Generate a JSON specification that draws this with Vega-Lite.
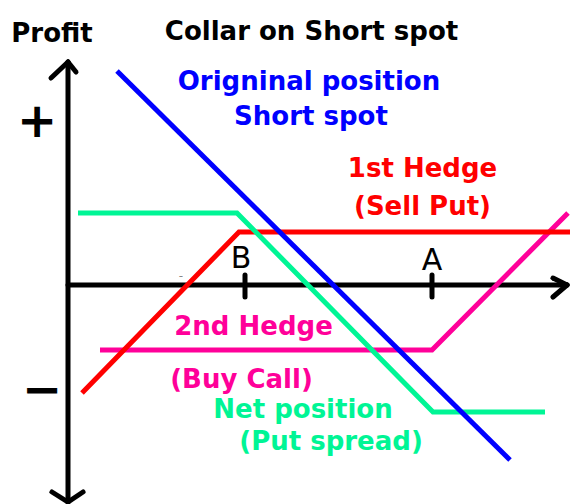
{
  "$schema": "https://vega.github.io/schema/vega-lite/v6.json",
  "width": 570,
  "height": 504,
  "autosize": {"type": "none"},
  "padding": 0,
  "background": "white",
  "config": {"view": {"stroke": null}},
  "datasets": {
    "lines": [
      {"series": "2nd Hedge", "i": 1, "price": 3.2, "profit": -6.5},
      {"series": "2nd Hedge", "i": 2, "price": 36.4, "profit": -6.5},
      {"series": "2nd Hedge", "i": 3, "price": 50.0, "profit": 7.2},
      {"series": "1st Hedge", "i": 1, "price": 1.4, "profit": -10.8},
      {"series": "1st Hedge", "i": 2, "price": 17.1, "profit": 5.3},
      {"series": "1st Hedge", "i": 3, "price": 50.2, "profit": 5.3},
      {"series": "Net position", "i": 1, "price": 1.0, "profit": 7.2},
      {"series": "Net position", "i": 2, "price": 16.9, "profit": 7.2},
      {"series": "Net position", "i": 3, "price": 36.5, "profit": -12.7},
      {"series": "Net position", "i": 4, "price": 47.7, "profit": -12.7},
      {"series": "Original", "i": 1, "price": 4.9, "profit": 21.4},
      {"series": "Original", "i": 2, "price": 44.2, "profit": -17.5}
    ],
    "segs": [
      {"part": "y axis", "x1": 0, "y1": 22.3, "x2": 0, "y2": -21.7},
      {"part": "x axis", "x1": 0, "y1": 0, "x2": 49.9, "y2": 0},
      {"part": "arrow up", "x1": 0, "y1": 22.3, "x2": -1.7, "y2": 20.7},
      {"part": "arrow up", "x1": 0, "y1": 22.3, "x2": 0.8, "y2": 21.3},
      {"part": "arrow down", "x1": 0, "y1": -21.7, "x2": -1.6, "y2": -20.7},
      {"part": "arrow down", "x1": 0, "y1": -21.7, "x2": 1.5, "y2": -20.7},
      {"part": "arrow right", "x1": 49.9, "y1": 0, "x2": 48.5, "y2": 0.7},
      {"part": "arrow right", "x1": 49.9, "y1": 0, "x2": 48.5, "y2": -1.2},
      {"part": "tick B", "x1": 17.7, "y1": 1.0, "x2": 17.7, "y2": -1.2},
      {"part": "tick A", "x1": 36.4, "y1": 1.0, "x2": 36.4, "y2": -1.2}
    ],
    "labels": [
      {"kind": "head", "series": "Black", "text": "Profit", "price": -1.6, "profit": 24.3},
      {"kind": "head", "series": "Black", "text": "Collar on Short spot", "price": 24.35, "profit": 24.5},
      {"kind": "head", "series": "Original", "text": "Origninal position", "price": 24.1, "profit": 19.5},
      {"kind": "head", "series": "Original", "text": "Short spot", "price": 24.3, "profit": 16.0},
      {"kind": "head", "series": "1st Hedge", "text": "1st Hedge", "price": 35.45, "profit": 10.8},
      {"kind": "head", "series": "1st Hedge", "text": "(Sell Put)", "price": 35.45, "profit": 7.0},
      {"kind": "head", "series": "2nd Hedge", "text": "2nd Hedge", "price": 18.55, "profit": -5.0},
      {"kind": "head", "series": "2nd Hedge", "text": "(Buy Call)", "price": 17.35, "profit": -10.3},
      {"kind": "head", "series": "Net position", "text": "Net position", "price": 23.5, "profit": -13.3},
      {"kind": "head", "series": "Net position", "text": "(Put spread)", "price": 26.3, "profit": -16.5},
      {"kind": "strike", "series": "Black", "text": "B", "price": 17.3, "profit": 1.7},
      {"kind": "strike", "series": "Black", "text": "A", "price": 36.4, "profit": 1.5},
      {"kind": "sign", "series": "Black", "text": "+", "price": -3.1, "profit": 16.2},
      {"kind": "sign", "series": "Black", "text": "−", "price": -2.6, "profit": -10.7},
      {"kind": "dash", "series": "Grey", "text": "-", "price": 11.3, "profit": 0.9}
    ]
  },
  "layer": [
    {
      "data": {"name": "segs"},
      "mark": {"type": "rule", "color": "black", "strokeWidth": 5, "strokeCap": "round"},
      "encoding": {
        "x": {"field": "x1", "type": "quantitative", "scale": {"domain": [-6.8, 50.2], "nice": false, "zero": false}, "axis": null},
        "y": {"field": "y1", "type": "quantitative", "scale": {"domain": [-21.9, 28.5], "nice": false, "zero": false}, "axis": null},
        "x2": {"field": "x2"},
        "y2": {"field": "y2"}
      }
    },
    {
      "data": {"name": "lines"},
      "mark": {"type": "line", "strokeWidth": 5},
      "encoding": {
        "x": {"field": "price", "type": "quantitative"},
        "y": {"field": "profit", "type": "quantitative"},
        "order": {"field": "i"},
        "color": {"field": "series", "type": "nominal", "legend": null,
          "sort": ["2nd Hedge", "1st Hedge", "Net position", "Original", "Black", "Grey"],
          "scale": {"domain": ["2nd Hedge", "1st Hedge", "Net position", "Original", "Black", "Grey"],
                    "range": ["#ff0099", "#ff0000", "#00f595", "#0000ff", "#000000", "#888888"]}}
      }
    },
    {
      "data": {"name": "labels"},
      "transform": [{"filter": "datum.kind === 'head'"}],
      "mark": {"type": "text", "font": "DejaVu Sans", "fontWeight": "bold", "fontSize": 26, "align": "center", "baseline": "alphabetic"},
      "encoding": {
        "x": {"field": "price", "type": "quantitative"},
        "y": {"field": "profit", "type": "quantitative"},
        "text": {"field": "text"},
        "color": {"field": "series", "type": "nominal", "legend": null}
      }
    },
    {
      "data": {"name": "labels"},
      "transform": [{"filter": "datum.kind === 'strike'"}],
      "mark": {"type": "text", "font": "DejaVu Sans", "fontSize": 30, "align": "center", "baseline": "alphabetic"},
      "encoding": {
        "x": {"field": "price", "type": "quantitative"},
        "y": {"field": "profit", "type": "quantitative"},
        "text": {"field": "text"},
        "color": {"field": "series", "type": "nominal", "legend": null}
      }
    },
    {
      "data": {"name": "labels"},
      "transform": [{"filter": "datum.kind === 'sign'"}],
      "mark": {"type": "text", "font": "DejaVu Sans", "fontWeight": "bold", "fontSize": 48, "align": "center", "baseline": "middle"},
      "encoding": {
        "x": {"field": "price", "type": "quantitative"},
        "y": {"field": "profit", "type": "quantitative"},
        "text": {"field": "text"},
        "color": {"field": "series", "type": "nominal", "legend": null}
      }
    },
    {
      "data": {"name": "labels"},
      "transform": [{"filter": "datum.kind === 'dash'"}],
      "mark": {"type": "text", "font": "DejaVu Sans", "fontSize": 12, "align": "center", "baseline": "middle"},
      "encoding": {
        "x": {"field": "price", "type": "quantitative"},
        "y": {"field": "profit", "type": "quantitative"},
        "text": {"field": "text"},
        "color": {"field": "series", "type": "nominal", "legend": null}
      }
    }
  ]
}
